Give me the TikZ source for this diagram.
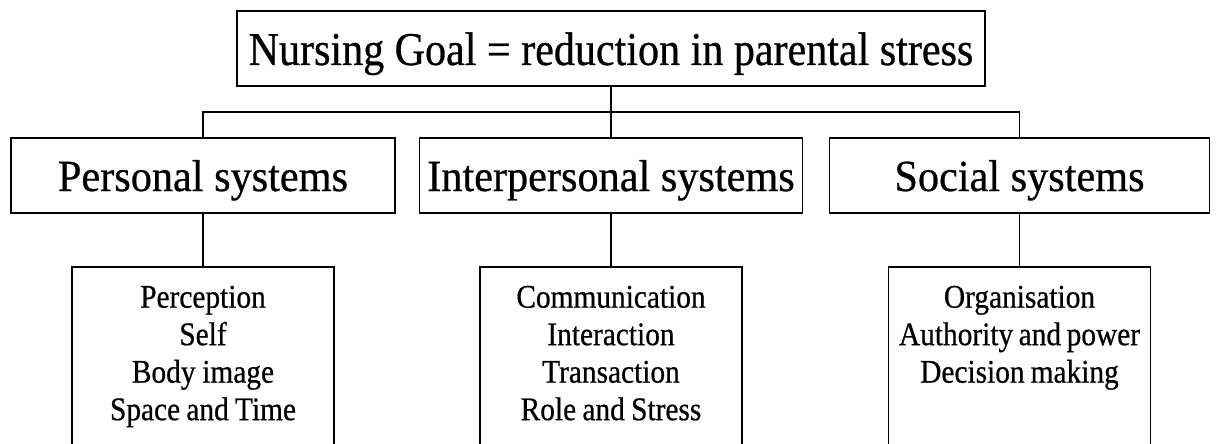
\documentclass[tikz,border=0pt]{standalone}
\usepackage{fontspec}
\setmainfont{Liberation Serif}
\newfontfamily\goalfont{Liberation Serif}[FakeStretch=0.895, FakeBold=0.6]
\newfontfamily\sysfont{Liberation Serif}[FakeStretch=0.95, FakeBold=0.6]
\newfontfamily\listfont{Liberation Serif}[FakeStretch=0.89, FakeBold=0.6]
\newcommand\tightspace{\spaceskip 0.16em plus 0.05em\relax}
\begin{document}
\begin{tikzpicture}[x=1pt, y=-1pt, line width=1.9pt,
	goalbox/.style={draw, inner sep=0pt, minimum width=748pt, minimum height=75pt, text height=33pt, text depth=0pt, font=\goalfont\fontsize{47}{56}\selectfont},
	sysbox/.style={draw, inner sep=0pt, minimum height=75pt, text height=31pt, text depth=0pt, font=\sysfont\fontsize{44.5}{53}\selectfont},
	listbox/.style={draw, inner sep=0pt, anchor=north, text width=262pt, align=center, text height=40.7pt, text depth=163pt, font=\listfont\fontsize{33}{37.5}\selectfont, execute at begin node=\tightspace}]
		\useasboundingbox (0,0) rectangle (1218,444);
		\clip (0,0) rectangle (1218,444);

		% Draw the goal box
		\node[goalbox] (goal) at (611, 48.5) {Nursing Goal = reduction in parental stress};

		% Draw the three systems
		\node[sysbox, minimum width=384pt] (pers) at (203, 175.5) {Personal systems};
		\node[sysbox, minimum width=383pt] (inter) at (611, 175.5) {Interpersonal systems};
		\node[sysbox, minimum width=380pt] (soc) at (1019.5, 175.5) {Social systems};

		% Draw the concept lists, open at the bottom
		\node[listbox] (perslist) at (203, 266) {Perception\\Self\\Body image\\Space and Time};
		\node[listbox] (interlist) at (611, 266) {Communication\\Interaction\\Transaction\\Role and Stress};
		\node[listbox] (soclist) at (1019.5, 266) {Organisation\\Authority and power\\Decision making};

		% Draw the lines between the boxes
		\coordinate (bus) at (611, 112);
		\draw (goal.south) -- (inter.north);
		\draw (pers.north) |- (bus) -| (soc.north);
		\draw (pers.south) -- (perslist.north);
		\draw (inter.south) -- (interlist.north);
		\draw (soc.south) -- (soclist.north);

	\end{tikzpicture}
\end{document}
